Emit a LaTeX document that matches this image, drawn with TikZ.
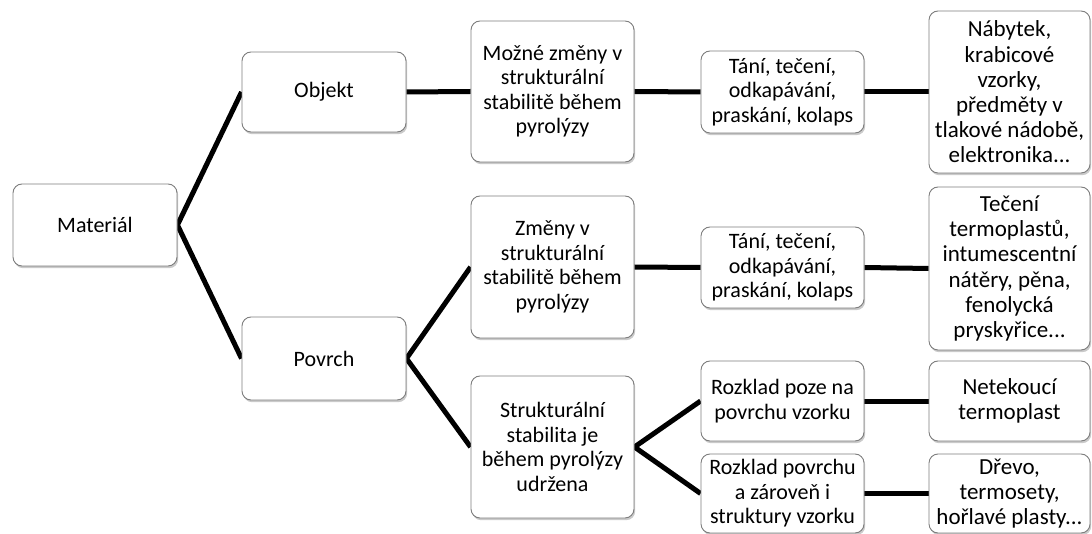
\documentclass[tikz,border=0pt]{standalone}
\usepackage{fontspec}
\setmainfont{Carlito}
\usetikzlibrary{shadows,backgrounds}
\definecolor{boxborder}{RGB}{125,125,125}
\tikzset{
  box/.style={rectangle, draw=boxborder, line width=0.9pt, fill=white,
    rounded corners=9pt, inner sep=0pt, align=center,
    font=\fontsize{22}{24.5}\selectfont,
    drop shadow={shadow xshift=1.2pt, shadow yshift=-2.2pt, opacity=0.35, fill=black!60}},
  bigbox/.style={box, font=\fontsize{23}{25.2}\selectfont},
  link/.style={line width=5pt, black, line join=miter}
}
\begin{document}
\begin{tikzpicture}[x=1pt,y=-1pt]
\useasboundingbox (0,0) rectangle (1092,534);
% level 1-2
\node[box, minimum width=164pt, minimum height=82pt] (mat) at (95,225) {Materiál};
\node[box, minimum width=164pt, minimum height=80pt] (obj) at (324,92) {Objekt};
\node[box, minimum width=164pt, minimum height=83pt] (pov) at (324,358.5) {Povrch};
% level 3
\node[box, minimum width=163pt, minimum height=141pt] (l3a) at (552.5,91.5) {Možné změny v\\strukturální\\stabilitě během\\pyrolýzy};
\node[box, minimum width=163pt, minimum height=142pt] (l3b) at (552.5,267) {Změny v\\strukturální\\stabilitě během\\pyrolýzy};
\node[box, minimum width=163pt, minimum height=142pt] (l3c) at (552.5,447) {Strukturální\\stabilita je\\během pyrolýzy\\udržena};
% level 4
\node[box, minimum width=163pt, minimum height=82pt] (l4a) at (782.5,92) {Tání, tečení,\\odkapávání,\\praskání, kolaps};
\node[box, minimum width=163pt, minimum height=81pt] (l4b) at (782.5,267.5) {Tání, tečení,\\odkapávání,\\praskání, kolaps};
\node[box, minimum width=163pt, minimum height=80pt] (l4c) at (782.5,401) {Rozklad poze na\\povrchu vzorku};
\node[box, minimum width=163pt, minimum height=79pt] (l4d) at (782.5,493.5) {Rozklad povrchu\\a zároveň i\\struktury vzorku};
% level 5
\node[bigbox, minimum width=161pt, minimum height=162pt] (l5a) at (1009.5,92) {Nábytek,\\krabicové\\vzorky,\\předměty v\\tlakové nádobě,\\elektronika...};
\node[bigbox, minimum width=161pt, minimum height=163pt] (l5b) at (1009.5,268.5) {Tečení\\termoplastů,\\intumescentní\\nátěry, pěna,\\fenolycká\\pryskyřice...};
\node[bigbox, minimum width=161pt, minimum height=80pt] (l5c) at (1009.5,401) {Netekoucí\\termoplast};
\node[bigbox, minimum width=161pt, minimum height=79pt] (l5d) at (1009.5,493.5) {Dřevo,\\termosety,\\hořlavé plasty...};
% connectors
\begin{scope}[on background layer]
\draw[link] (obj.west) -- (mat.east) -- (pov.west);
\draw[link] (l3b.west) -- (pov.east) -- (l3c.west);
\draw[link] (l4c.west) -- (l3c.east) -- (l4d.west);
\draw[link] (obj.east) -- (l3a.west);
\draw[link] (l3a.east) -- (l4a.west);
\draw[link] (l3b.east) -- (l4b.west);
\draw[link] (l4a.east) -- (l5a.west);
\draw[link] (l4b.east) -- (l5b.west);
\draw[link] (l4c.east) -- (l5c.west);
\draw[link] (l4d.east) -- (l5d.west);
\end{scope}
\end{tikzpicture}
\end{document}
